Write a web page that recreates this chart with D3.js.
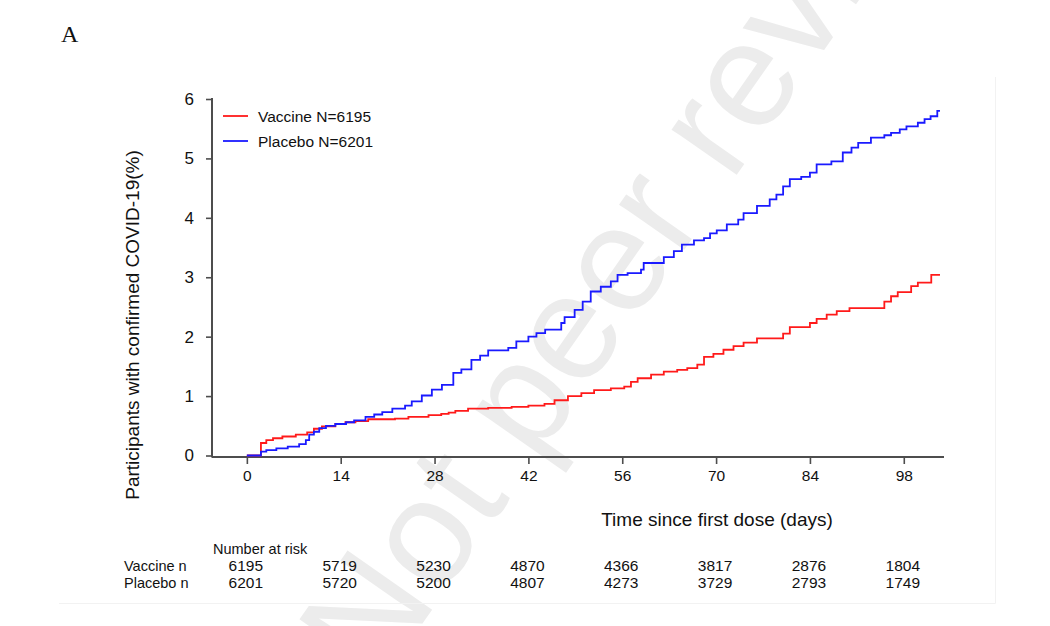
<!DOCTYPE html>
<html>
<head>
<meta charset="utf-8">
<script src="https://cdn.jsdelivr.net/npm/d3@7"></script>
<style>
  html, body { margin: 0; padding: 0; background: #fff; }
  svg { display: block; }
  text { font-family: "Liberation Sans", Arial, sans-serif; fill: #111; }
</style>
</head>
<body>
<svg id="chart" width="1050" height="626"></svg>
<script>
// ---- data ----
const vaccineDays = [0, 2.1, 2.9, 3.9, 5.3, 7.3, 9.0, 10.0, 11.2, 13.2, 14.7, 16.2, 18.1, 22.1, 24.1, 27.1, 29.0, 30.1, 31.1, 33.0, 36.0, 39.5, 42.0, 44.4, 45.9, 47.9, 49.9, 51.8, 54.3, 56.3, 57.3, 58.3, 60.3, 62.2, 64.2, 65.7, 67.2, 68.2, 69.6, 71.1, 72.6, 74.1, 76.1, 80.0, 81.0, 84.0, 85.0, 86.5, 88.0, 89.9, 95.1, 96.1, 97.1, 99.1, 100.1, 102.1, 103.4];
const vaccinePct  = [0, 0.21, 0.26, 0.29, 0.32, 0.35, 0.39, 0.45, 0.49, 0.53, 0.56, 0.58, 0.61, 0.62, 0.65, 0.68, 0.70, 0.72, 0.75, 0.79, 0.80, 0.82, 0.84, 0.87, 0.93, 1.00, 1.05, 1.10, 1.13, 1.16, 1.24, 1.30, 1.36, 1.41, 1.44, 1.47, 1.53, 1.66, 1.71, 1.78, 1.84, 1.90, 1.97, 2.05, 2.16, 2.23, 2.30, 2.37, 2.43, 2.48, 2.59, 2.68, 2.75, 2.85, 2.91, 3.04, 3.04];

const placeboDays = [0, 2.1, 2.9, 4.4, 6.1, 7.8, 8.8, 9.3, 10.0, 10.8, 11.8, 13.2, 14.8, 16.0, 17.7, 19.0, 20.2, 21.7, 23.6, 24.6, 26.1, 27.6, 29.1, 30.8, 32.0, 33.5, 34.8, 36.0, 39.0, 40.2, 42.0, 43.2, 44.5, 46.9, 47.4, 48.9, 50.1, 51.3, 52.8, 54.3, 55.3, 56.8, 58.8, 59.2, 62.2, 63.7, 64.9, 66.7, 68.2, 69.1, 70.1, 71.6, 73.3, 74.1, 76.1, 78.0, 79.0, 80.0, 81.0, 82.7, 84.0, 85.0, 87.2, 88.9, 90.2, 91.2, 93.1, 95.1, 96.1, 97.4, 98.4, 100.1, 101.1, 102.0, 103.0, 103.4];
const placeboPct  = [0, 0.065, 0.09, 0.12, 0.15, 0.19, 0.26, 0.35, 0.40, 0.46, 0.50, 0.53, 0.56, 0.59, 0.65, 0.69, 0.73, 0.79, 0.84, 0.91, 1.01, 1.11, 1.19, 1.39, 1.45, 1.61, 1.68, 1.77, 1.81, 1.92, 2.00, 2.06, 2.12, 2.23, 2.33, 2.45, 2.59, 2.76, 2.84, 2.93, 3.04, 3.07, 3.13, 3.24, 3.34, 3.44, 3.55, 3.62, 3.66, 3.74, 3.79, 3.89, 3.97, 4.08, 4.20, 4.31, 4.39, 4.53, 4.65, 4.69, 4.76, 4.90, 4.95, 5.10, 5.18, 5.26, 5.35, 5.39, 5.43, 5.49, 5.54, 5.60, 5.66, 5.71, 5.80, 5.80];

const xTicks = [0, 14, 28, 42, 56, 70, 84, 98];
const yTicks = [0, 1, 2, 3, 4, 5, 6];
const seriesNames = ["Vaccine N=6195", "Placebo N=6201"];
const riskRowLabels = ["Vaccine n", "Placebo n"];
const vaccineAtRisk = [6195, 5719, 5230, 4870, 4366, 3817, 2876, 1804];
const placeboAtRisk = [6201, 5720, 5200, 4807, 4273, 3729, 2793, 1749];

// ---- drawing ----
const svg = d3.select("#chart");
const RED = "#ff1a1a", BLUE = "#1a1aff", AXIS = "#4d4d4d";

// watermark
svg.append("text")
  .attr("transform", "translate(726,190) rotate(-55)")
  .attr("text-anchor", "middle")
  .style("font-family", "'Liberation Sans', Arial, sans-serif")
  .style("font-size", "150px")
  .style("fill", "#ececec")
  .text("Not peer reviewed");

// faint frame
svg.append("path")
  .attr("d", "M59,603.5 H995.5 V77")
  .attr("fill", "none").attr("stroke", "#f2f2f2").attr("stroke-width", 1);

// panel letter
svg.append("text").attr("x", 61).attr("y", 42)
  .style("font-family", "'Liberation Serif', 'Times New Roman', serif")
  .style("font-size", "24px").text("A");

const x = d3.scaleLinear().domain([-5.2, 104]).range([212, 944]);
const y = d3.scaleLinear().domain([0, 6]).range([455.5, 99]);

// axes
const gx = svg.append("g").attr("transform", "translate(0,457)")
  .call(d3.axisBottom(x).tickValues(xTicks).tickFormat(d3.format("d")).tickSize(7).tickSizeOuter(0).tickPadding(6));
const gy = svg.append("g").attr("transform", "translate(212,0)")
  .call(d3.axisLeft(y).tickValues(yTicks).tickFormat(d3.format("d")).tickSize(6).tickSizeOuter(0).tickPadding(12));
[gx, gy].forEach(g => {
  g.select(".domain").attr("stroke", AXIS).attr("stroke-width", 2);
  g.selectAll(".tick line").attr("stroke", AXIS).attr("stroke-width", 1.6);
  g.selectAll(".tick text").style("font-family", "'Liberation Sans', Arial, sans-serif").attr("fill", "#111");
});
gx.select(".domain").attr("d", "M212,0H944");
gy.select(".domain").attr("d", "M0,457.5V98");
gx.selectAll(".tick text").style("font-size", "15.5px");
gy.selectAll(".tick text").style("font-size", "17px");

// axis titles
svg.append("text")
  .attr("transform", "translate(139,325) rotate(-90)")
  .attr("text-anchor", "middle").style("font-size", "19px")
  .text("Participants with confirmed COVID-19(%)");
svg.append("text")
  .attr("x", 717).attr("y", 526)
  .attr("text-anchor", "middle").style("font-size", "19px")
  .text("Time since first dose (days)");

// step lines
const line = d3.line().x(d => x(d[0])).y(d => y(d[1])).curve(d3.curveStepAfter);
const vaccine = vaccineDays.map((d, i) => [d, vaccinePct[i]]);
const placebo = placeboDays.map((d, i) => [d, placeboPct[i]]);
svg.append("path").datum(vaccine).attr("d", line)
  .attr("fill", "none").attr("stroke", RED).attr("stroke-width", 1.8);
svg.append("path").datum(placebo).attr("d", line)
  .attr("fill", "none").attr("stroke", BLUE).attr("stroke-width", 1.8);

// legend
const legY = [116, 141], legC = [RED, BLUE];
seriesNames.forEach((name, i) => {
  svg.append("line").attr("x1", 223).attr("x2", 248).attr("y1", legY[i]).attr("y2", legY[i])
    .attr("stroke", legC[i]).attr("stroke-width", 1.8);
  svg.append("text").attr("x", 258).attr("y", legY[i] + 5.5)
    .style("font-size", "15.5px").text(name);
});

// number at risk table
svg.append("text").attr("x", 213).attr("y", 554).style("font-size", "14.5px").text("Number at risk");
const rows = [vaccineAtRisk, placeboAtRisk];
const rowY = [571, 588];
rows.forEach((vals, r) => {
  svg.append("text").attr("x", 124).attr("y", rowY[r]).style("font-size", "14.5px").text(riskRowLabels[r]);
  svg.selectAll(null).data(vals).enter().append("text")
    .attr("x", (d, i) => x(xTicks[i]) - 1)
    .attr("y", rowY[r])
    .attr("text-anchor", "middle")
    .style("font-size", "15.5px")
    .text(d => d);
});
</script>
</body>
</html>
